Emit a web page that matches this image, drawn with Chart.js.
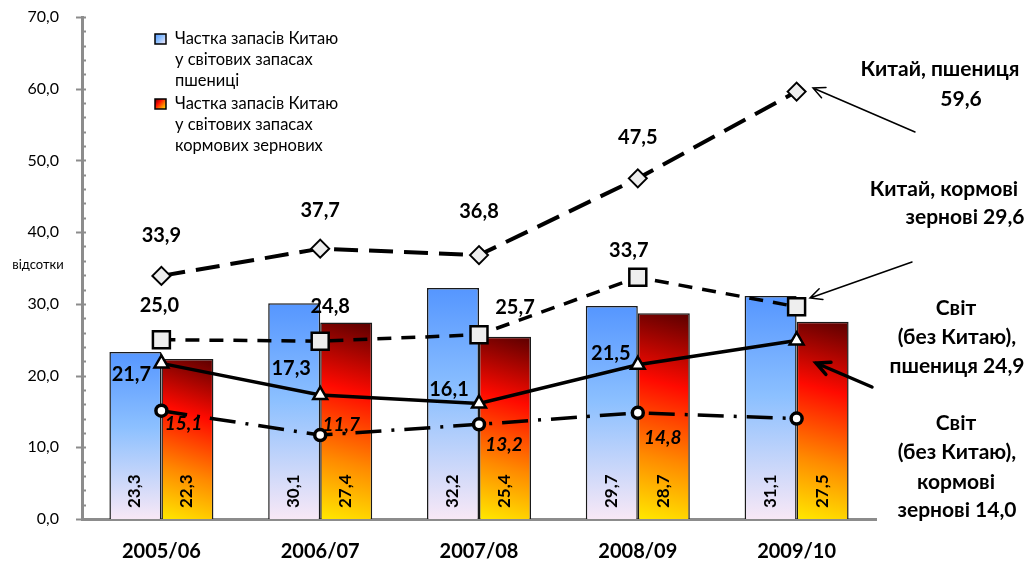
<!DOCTYPE html>
<html>
<head>
<meta charset="utf-8">
<script src="https://cdn.jsdelivr.net/npm/chart.js@4.4.1/dist/chart.umd.min.js"></script>
<style>
  html, body { margin: 0; padding: 0; background: #fff; }
  #wrap { width: 1031px; height: 561px; }
</style>
</head>
<body>
<div id="wrap"><canvas id="chart" width="1031" height="561"></canvas></div>
<script>
// data
const seasons = ['2005/06', '2006/07', '2007/08', '2008/09', '2009/10'];
const wheatShare = [23.3, 30.1, 32.2, 29.7, 31.1];   // blue bars
const feedShare = [22.3, 27.4, 25.4, 28.7, 27.5];    // red bars
const chinaWheat = [33.9, 37.7, 36.8, 47.5, 59.6];
const chinaFeed = [25.0, 24.8, 25.7, 33.7, 29.6];
const worldWheat = [21.7, 17.3, 16.1, 21.5, 24.9];
const worldFeed = [15.1, 11.7, 13.2, 14.8, 14.0];
const yMin = 0, yMax = 70, yStep = 10, yMinorStep = 2;
const yTitle = 'відсотки';
const legendWheat = ['Частка запасів Китаю', 'у світових запасах', 'пшениці'];
const legendFeed = ['Частка запасів Китаю', 'у світових запасах', 'кормових зернових'];

const FONT = 'Lato, "Open Sans", sans-serif';
const fmt = v => v.toFixed(1).replace('.', ',');
const CAT_PCT = 0.655;

function blueGrad(ctx, x0, y0, x1, y1) {
  const g = ctx.createLinearGradient(x0, y0, x1, y1);
  g.addColorStop(0, '#5596ff');
  g.addColorStop(0.45, '#8cc0ff');
  g.addColorStop(1, '#f8e8f6');
  return g;
}
function redGrad(ctx, x0, y0, x1, y1) {
  const g = ctx.createLinearGradient(x0, y0, x1, y1);
  g.addColorStop(0, '#5a0000');
  g.addColorStop(0.35, '#ff0a00');
  g.addColorStop(0.7, '#ff8a00');
  g.addColorStop(1, '#ffe800');
  return g;
}

function barFill(c) {
  const chart = c.chart;
  if (!chart.chartArea || c.raw == null) return '#88bbff';
  const xs = chart.scales.x, ys = chart.scales.y;
  const top = ys.getPixelForValue(c.raw), bottom = ys.getPixelForValue(0);
  const cx = xs.getPixelForValue(c.dataIndex);
  const bw = xs.width / seasons.length * CAT_PCT / 2;
  if (c.datasetIndex === 0) return blueGrad(chart.ctx, cx, top, cx, bottom);
  return redGrad(chart.ctx, cx + bw, top, cx, bottom);
}

// label offsets per line (positions only)
const lineLabelPos = {
  2: { font: 'bold 20px ' + FONT, off: [[0, -40], [0, -38], [0, -44], [0, -41], null] },
  3: { font: 'bold 20px ' + FONT, off: [[-2, -34], [10, -35], [36, -27], [-9, -27], null] },
  4: { font: 'bold 20px ' + FONT, off: [[-30, 11], [-29, -26], [-30, -14], [-27, -11], null] },
  5: { font: 'italic bold 19px ' + FONT, off: [[22, 13], [21, -10], [25, 21], [25, 25], null] }
};

function arrow(ctx, x1, y1, x2, y2, w, head) {
  const a = Math.atan2(y2 - y1, x2 - x1);
  ctx.save();
  ctx.strokeStyle = '#000';
  ctx.lineWidth = w;
  ctx.lineCap = 'round';
  ctx.beginPath();
  ctx.moveTo(x1, y1); ctx.lineTo(x2, y2);
  ctx.moveTo(x2 - head * Math.cos(a - 0.45), y2 - head * Math.sin(a - 0.45));
  ctx.lineTo(x2, y2);
  ctx.lineTo(x2 - head * Math.cos(a + 0.45), y2 - head * Math.sin(a + 0.45));
  ctx.stroke();
  ctx.restore();
}

const extras = {
  id: 'extras',
  beforeDatasetsDraw(chart) {
    const ctx = chart.ctx, ys = chart.scales.y, left = chart.chartArea.left;
    ctx.save();
    ctx.strokeStyle = '#8c8c8c';
    ctx.lineWidth = 2;
    for (let v = yMin; v <= yMax; v += yMinorStep) {
      const y = Math.round(ys.getPixelForValue(v)) + 0.5;
      ctx.beginPath();
      ctx.moveTo(v % yStep === 0 ? left - 6 : left, y);
      ctx.lineTo(left + 4, y);
      ctx.stroke();
    }
    ctx.restore();
  },
  afterDatasetsDraw(chart) {
    const ctx = chart.ctx;
    ctx.save();
    ctx.fillStyle = '#000';
    // values inside bars, rotated
    [0, 1].forEach(di => {
      const meta = chart.getDatasetMeta(di);
      const vals = chart.data.datasets[di].data;
      meta.data.forEach((el, i) => {
        ctx.save();
        ctx.translate(Math.round(el.x), el.base - 11);
        ctx.rotate(-Math.PI / 2);
        ctx.fillStyle = '#000';
        ctx.font = 'bold 17px ' + FONT;
        ctx.textAlign = 'left';
        ctx.textBaseline = 'middle';
        ctx.fillText(fmt(vals[i]), 0, 0);
        ctx.restore();
      });
    });
    // line point values
    Object.keys(lineLabelPos).forEach(k => {
      const di = +k, cfg = lineLabelPos[k];
      const meta = chart.getDatasetMeta(di);
      const vals = chart.data.datasets[di].data;
      ctx.font = cfg.font;
      ctx.textAlign = 'center';
      ctx.textBaseline = 'middle';
      meta.data.forEach((el, i) => {
        const o = cfg.off[i];
        if (!o) return;
        ctx.fillText(fmt(vals[i]), el.x + o[0], el.y + o[1]);
      });
    });
    // axis title
    ctx.font = '13px ' + FONT;
    ctx.textAlign = 'center';
    ctx.fillText(yTitle, 38, chart.scales.y.getPixelForValue(35.5));
    // legend
    const boxes = [[legendWheat, 39, blueGrad], [legendFeed, 104, redGrad]];
    boxes.forEach(([lines, y0, grad]) => {
      ctx.fillStyle = grad(ctx, 155, y0 - 5, 166, y0 + 5);
      ctx.fillRect(155, y0 - 5, 11, 10);
      ctx.strokeStyle = '#000';
      ctx.lineWidth = 1.5;
      ctx.strokeRect(155, y0 - 5, 11, 10);
      ctx.fillStyle = '#000';
      ctx.font = '16.5px ' + FONT;
      ctx.textAlign = 'left';
      lines.forEach((t, j) => ctx.fillText(t, 175, y0 + j * 21));
    });
    // annotations on the right
    const notes = [
      ['Китай, пшениця', 940, 69], [fmt(chinaWheat[4]), 961, 99],
      ['Китай, кормові', 944, 189], ['зернові ' + fmt(chinaFeed[4]), 965, 217],
      ['Світ', 956, 308], ['(без Китаю),', 957, 337], ['пшениця ' + fmt(worldWheat[4]), 957, 366],
      ['Світ', 956, 423], ['(без Китаю),', 957, 452], ['кормові', 956, 482], ['зернові ' + fmt(worldFeed[4]), 957, 510]
    ];
    ctx.font = 'bold 21px ' + FONT;
    ctx.textAlign = 'center';
    notes.forEach(([t, x, y]) => ctx.fillText(t, x, y));
    arrow(ctx, 915, 132, 813, 88, 1.5, 13);
    arrow(ctx, 912, 262, 810, 298, 1.5, 13);
    arrow(ctx, 872, 387, 816, 363, 3.5, 15);
    ctx.restore();
  }
};

const lineBase = {
  type: 'line',
  borderColor: '#000',
  pointBorderColor: '#000',
  fill: false,
  tension: 0,
  order: 0
};

new Chart(document.getElementById('chart'), {
  type: 'bar',
  data: {
    labels: seasons,
    datasets: [
      { label: legendWheat.join(' '), data: wheatShare, backgroundColor: barFill, borderColor: '#1a1a1a', borderWidth: 1.5, order: 1 },
      { label: legendFeed.join(' '), data: feedShare, backgroundColor: barFill, borderColor: '#1a1a1a', borderWidth: 1.5, order: 1 },
      Object.assign({}, lineBase, { label: 'Китай, пшениця', data: chinaWheat, borderWidth: 4, borderDash: [24, 11],
        pointStyle: 'rectRot', pointRadius: 9, pointBackgroundColor: '#eeeeee', pointBorderWidth: 2 }),
      Object.assign({}, lineBase, { label: 'Китай, кормові зернові', data: chinaFeed, borderWidth: 3.5, borderDash: [14, 10],
        pointStyle: 'rect', pointRadius: 12, pointBackgroundColor: '#eeeeee', pointBorderWidth: 2.5 }),
      Object.assign({}, lineBase, { label: 'Світ (без Китаю), пшениця', data: worldWheat, borderWidth: 3.5,
        pointStyle: 'triangle', pointRadius: 8, pointBackgroundColor: '#ffffff', pointBorderWidth: 2.5 }),
      Object.assign({}, lineBase, { label: 'Світ (без Китаю), кормові зернові', data: worldFeed, borderWidth: 3.5, borderDash: [26, 10, 3, 10],
        pointStyle: 'circle', pointRadius: 5.5, pointBackgroundColor: '#ffffff', pointBorderWidth: 3.5 })
    ]
  },
  options: {
    responsive: false,
    animation: false,
    devicePixelRatio: 1,
    layout: { padding: { top: 17, right: 155, left: 0, bottom: 0 } },
    plugins: { legend: { display: false }, tooltip: { enabled: false } },
    datasets: { bar: { categoryPercentage: CAT_PCT, barPercentage: 1 } },
    scales: {
      x: {
        grid: { display: false },
        border: { color: '#8c8c8c', width: 3 },
        ticks: { color: '#000', font: { family: FONT, size: 20, weight: 'bold' }, padding: 13 },
        afterFit: s => { s.height = 42; s.paddingLeft = 0; s.paddingRight = 0; }
      },
      y: {
        min: yMin, max: yMax,
        grid: { display: false },
        border: { color: '#8c8c8c', width: 3 },
        ticks: { stepSize: yStep, color: '#000', font: { family: FONT, size: 16 }, padding: 15, callback: v => fmt(v) },
        afterFit: s => { s.width = 82; s.paddingTop = 0; s.paddingBottom = 0; }
      }
    }
  },
  plugins: [extras]
});
</script>
</body>
</html>
